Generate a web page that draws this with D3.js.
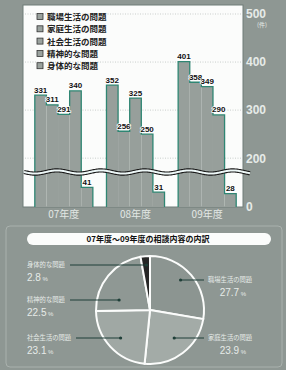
<!DOCTYPE html>
<html>
<head>
<meta charset="utf-8">
<script src="https://cdn.jsdelivr.net/npm/d3@7"></script>
<style>
  body { margin: 0; background: #8e9793; }
  svg { display: block; font-family: "Noto Sans CJK JP", "Noto Sans", sans-serif; }
</style>
</head>
<body>
<div id="chart"></div>
<script>
// Data
var years       = ["07年度", "08年度", "09年度"];
var categories  = ["職場生活の問題", "家庭生活の問題", "社会生活の問題", "精神的な問題", "身体的な問題"];
var values07    = [331, 311, 291, 340, 41];
var values08    = [352, 256, 325, 250, 31];
var values09    = [401, 358, 349, 290, 28];
var pieShares   = [27.7, 23.9, 23.1, 22.5, 2.8];
var yTicks      = [0, 200, 300, 400, 500];
var gridTicks   = [200, 300, 400, 500];

var chart_width  = 286;
var chart_height = 370;
var seriesByYear = [values07, values08, values09];

var svg = d3.select('#chart')
            .append('svg')
            .attr('width', chart_width)
            .attr('height', chart_height);

// background
svg.append('rect')
   .attr('width', chart_width).attr('height', chart_height)
   .attr('fill', '#8e9793');

// white plot panel
var panel = { left: 23, right: 243, top: 5, bottom: 207 };
svg.append('rect')
   .attr('x', panel.left).attr('y', panel.top)
   .attr('width', panel.right - panel.left)
   .attr('height', panel.bottom - panel.top)
   .attr('fill', '#fbfcfb')
   .attr('stroke', '#6f7d78')
   .attr('stroke-width', 1);

// Scales: broken y axis (0 - 70 at full scale, then jump to 170 - 500)
var y = d3.scaleLinear()
          .domain([0, 70, 170, 500])
          .range([207, 173.4, 172.6, 14]);

var x0 = d3.scaleBand()
           .domain(years)
           .range([28, 243])
           .paddingInner(0.19)
           .paddingOuter(0.095);

var x1 = d3.scaleBand()
           .domain(categories)
           .range([0, x0.bandwidth()]);

// dotted grid lines
svg.selectAll('line.grid')
   .data(gridTicks)
   .enter()
   .append('line')
   .classed('grid', true)
   .attr('x1', panel.left + 2).attr('x2', panel.right - 1)
   .attr('y1', function(d){ return y(d); })
   .attr('y2', function(d){ return y(d); })
   .attr('stroke', '#c9cecc')
   .attr('stroke-dasharray', '1,1.5');

// legend
var legend = svg.selectAll('g.legend')
                .data(categories)
                .enter()
                .append('g')
                .classed('legend', true)
                .attr('transform', function(d, i){
                  return "translate(37," + (17 + i * 12.3) + ")";
                });

legend.append('rect')
      .attr('x', 0).attr('y', -3.5)
      .attr('width', 6).attr('height', 6)
      .attr('fill', '#9aa29e')
      .attr('stroke', '#333')
      .attr('stroke-width', 0.8);

legend.append('text')
      .attr('x', 10).attr('y', 0)
      .attr('dy', '0.35em')
      .attr('font-size', 8.5)
      .attr('font-weight', 'bold')
      .attr('fill', '#222')
      .text(function(d){ return d; });

// bars
var groups = svg.selectAll('g.year')
                .data(seriesByYear)
                .enter()
                .append('g')
                .classed('year', true)
                .attr('transform', function(d, i){
                  return "translate(" + x0(years[i]) + ",0)";
                });

groups.selectAll('rect')
      .data(function(d){ return d; })
      .enter()
      .append('rect')
      .attr('x', function(d, i){ return x1(categories[i]); })
      .attr('y', function(d){ return y(d); })
      .attr('width', x1.bandwidth())
      .attr('height', function(d){ return y(0) - y(d); })
      .attr('fill', '#979f9b');

// stepped outline of each group
var outline = d3.line();
groups.append('path')
      .attr('d', function(d){
        var pts = [[x1(categories[0]), y(0)]];
        d.forEach(function(v, i){
          pts.push([x1(categories[i]), y(v)]);
          pts.push([x1(categories[i]) + x1.bandwidth(), y(v)]);
        });
        pts.push([x1(categories[d.length - 1]) + x1.bandwidth(), y(0)]);
        return outline(pts);
      })
      .attr('fill', 'none')
      .attr('stroke', '#2f8673')
      .attr('stroke-width', 1.3);

// break wave across the chart
var wavePts = d3.range(24, 251, 1).map(function(px){
  return [px, 172 + 1.6 * Math.sin((px - 24) / 7)];
});
var wave = d3.line().curve(d3.curveBasis);
svg.append('path')
   .attr('d', wave(wavePts))
   .attr('fill', 'none')
   .attr('stroke', '#1a1a1a')
   .attr('stroke-width', 4.2);
svg.append('path')
   .attr('d', wave(wavePts))
   .attr('fill', 'none')
   .attr('stroke', '#eef8f8')
   .attr('stroke-width', 2);

// value labels
groups.selectAll('text.val')
      .data(function(d){ return d; })
      .enter()
      .append('text')
      .classed('val', true)
      .attr('x', function(d, i){ return x1(categories[i]) + x1.bandwidth() / 2; })
      .attr('y', function(d){ return y(d) - 2.5; })
      .attr('text-anchor', 'middle')
      .attr('font-family', 'Liberation Sans, Arial, sans-serif')
      .attr('font-size', 8)
      .attr('font-weight', 'bold')
      .attr('fill', '#111')
      .attr('stroke', '#fff')
      .attr('stroke-width', 1.6)
      .attr('paint-order', 'stroke')
      .text(function(d){ return d; });

// right axis
var yAxis = d3.axisRight(y)
              .tickValues(yTicks)
              .tickSize(0)
              .tickPadding(3);

var axisG = svg.append('g')
               .attr('transform', "translate(" + panel.right + ",0)")
               .call(yAxis);
axisG.select('.domain').remove();
axisG.selectAll('text')
     .attr('font-family', 'Liberation Sans, Arial, sans-serif')
     .attr('font-size', 12)
     .attr('font-weight', 'bold')
     .attr('fill', '#e6ebe8');

svg.append('text')
   .attr('x', 257).attr('y', 27)
   .attr('font-size', 6)
   .attr('fill', '#e6ebe8')
   .text('(件)');

// x labels
svg.selectAll('text.year')
   .data(years)
   .enter()
   .append('text')
   .classed('year', true)
   .attr('x', function(d){ return x0(d) + x0.bandwidth() / 2; })
   .attr('y', 218)
   .attr('text-anchor', 'middle')
   .attr('font-size', 10)
   .attr('fill', '#e3e8e5')
   .text(function(d){ return d; });

// ---- pie section ----
svg.append('rect')
   .attr('x', 6).attr('y', 226)
   .attr('width', 276).attr('height', 141)
   .attr('rx', 4)
   .attr('fill', 'none')
   .attr('stroke', '#a9b1ad')
   .attr('stroke-width', 1);

svg.append('rect')
   .attr('x', 27).attr('y', 233)
   .attr('width', 244).attr('height', 12)
   .attr('rx', 6)
   .attr('fill', '#fbfcfb');

svg.append('text')
   .attr('x', 148).attr('y', 239)
   .attr('dy', '0.35em')
   .attr('text-anchor', 'middle')
   .attr('font-size', 8)
   .attr('font-weight', 'bold')
   .attr('fill', '#111')
   .text('07年度〜09年度の相談内容の内訳');

var cx = 150, cy = 310, outer_radius = 54;
var pieColors = ['#8c9591', '#a3aba7', '#a0a8a4', '#8f9894', '#262626'];

var pie = d3.pie().sort(null).startAngle(0).endAngle(2 * Math.PI);
var arc = d3.arc().innerRadius(0).outerRadius(outer_radius);
var dotArc = d3.arc().innerRadius(40).outerRadius(40);

var pieG = svg.append('g')
              .attr('transform', "translate(" + cx + "," + cy + ")");

var slices = pie(pieShares);

pieG.selectAll('path')
    .data(slices)
    .enter()
    .append('path')
    .attr('d', arc)
    .attr('fill', function(d, i){ return pieColors[i]; })
    .attr('stroke', '#fbfcfb')
    .attr('stroke-width', 2);

// pie labels: name position, number anchor and leader end
var labelPos = [
  { x: 208, y: 280, numX: 246, anchor: 'end',   lineTo: 204 },
  { x: 208, y: 338, numX: 246, anchor: 'end',   lineTo: 204 },
  { x: 27,  y: 338, numX: 27,  anchor: 'start', lineTo: 76 },
  { x: 27,  y: 300, numX: 27,  anchor: 'start', lineTo: 70 },
  { x: 27,  y: 265, numX: 27,  anchor: 'start', lineTo: 70 }
];

slices.forEach(function(s, i){
  var p = labelPos[i];
  var c = dotArc.centroid(s);
  var dotX = cx + c[0];
  var dotY = p.y;
  svg.append('line')
     .attr('x1', p.lineTo).attr('x2', dotX)
     .attr('y1', dotY).attr('y2', dotY)
     .attr('stroke', '#1f3f38')
     .attr('stroke-width', 1);
  svg.append('circle')
     .attr('cx', dotX).attr('cy', dotY).attr('r', 1.6)
     .attr('fill', '#1f3f38');

  svg.append('text')
     .attr('x', p.x)
     .attr('y', p.y)
     .attr('dy', '0.35em')
     .attr('font-size', 6.3)
     .attr('fill', '#e6ebe8')
     .text(categories[i]);

  var t = svg.append('text')
             .attr('x', p.numX)
             .attr('y', p.y + 16)
             .attr('text-anchor', p.anchor)
             .attr('font-family', 'Liberation Sans, Arial, sans-serif')
             .attr('font-size', 10)
             .attr('fill', '#e6ebe8');
  t.append('tspan').text(pieShares[i].toFixed(1));
  t.append('tspan').attr('font-size', 6).attr('dx', 1.5).text('%');
});
</script>
</body>
</html>
